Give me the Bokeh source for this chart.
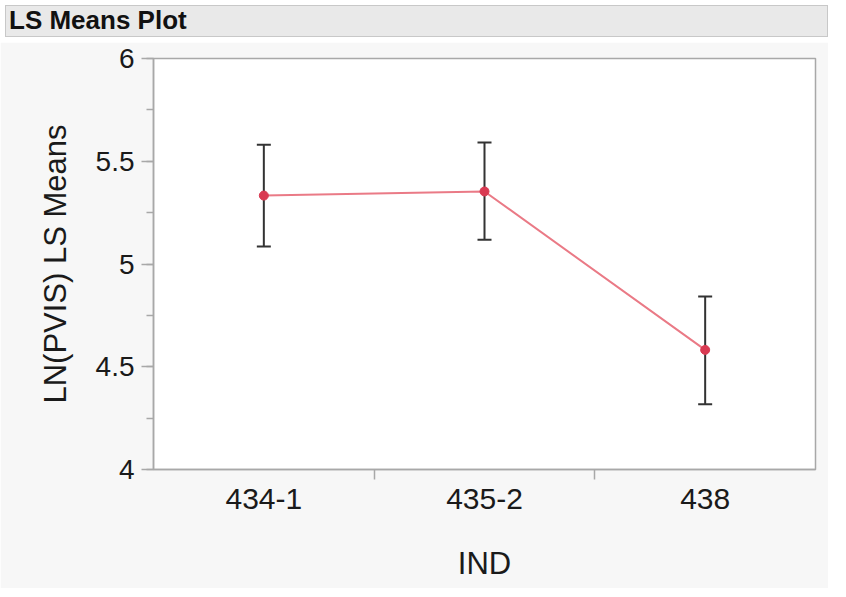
from bokeh.plotting import figure
from bokeh.models import (ColumnDataSource, Whisker, TeeHead, FixedTicker,
                          SingleIntervalTicker, CustomJSTickFormatter, Div, Range1d)
from bokeh.layouts import column
from bokeh.embed import file_html
from bokeh.resources import INLINE

# ---- data ----
categories = ["434-1", "435-2", "438"]
ls_means = [5.333, 5.353, 4.582]
upper_ci = [5.580, 5.591, 4.842]
lower_ci = [5.085, 5.118, 4.318]

xpos = [i + 0.5 for i in range(len(categories))]
src = ColumnDataSource(dict(x=xpos, mean=ls_means, upper=upper_ci, lower=lower_ci, cat=categories))

FONT = "Liberation Sans"

title_div = Div(text="LS Means Plot", width=823, height=32,
                styles={"background-color": "#e9e9e9", "border": "1px solid #c8c8c8",
                        "font-family": FONT, "font-weight": "bold", "font-size": "26px",
                        "padding-left": "3px", "box-sizing": "border-box",
                        "line-height": "29px", "color": "#111111"})

p = figure(width=828, height=546, output_backend="svg", toolbar_location=None,
           x_range=Range1d(0, len(categories)), y_range=Range1d(4, 6),
           min_border_left=153, min_border_right=13, min_border_top=16, min_border_bottom=119,
           background_fill_color="white", border_fill_color="#f7f7f7",
           outline_line_color="#a8a8a8", outline_line_width=1.5)
p.grid.visible = False

# axes
p.yaxis.ticker = SingleIntervalTicker(interval=0.5, num_minor_ticks=2)
p.yaxis.formatter = CustomJSTickFormatter(code="return String(Math.round(tick*10)/10);")
p.yaxis.axis_label = "LN(PVIS) LS Means"
p.xaxis.ticker = FixedTicker(ticks=xpos, minor_ticks=[1, 2])
p.xaxis.formatter = CustomJSTickFormatter(args=dict(cats=categories),
                                          code="return cats[Math.round(tick - 0.5)];")
p.xaxis.axis_label = "IND"

for ax in (p.xaxis[0], p.yaxis[0]):
    ax.axis_line_color = "#a8a8a8"
    ax.axis_line_width = 1.5
    ax.major_tick_line_color = "#a8a8a8"
    ax.minor_tick_line_color = "#a8a8a8"
    ax.major_tick_line_width = 1.5
    ax.minor_tick_line_width = 1.5
    ax.major_label_text_font = FONT
    ax.major_label_text_color = "#1a1a1a"
    ax.axis_label_text_font = FONT
    ax.axis_label_text_font_style = "normal"
    ax.axis_label_text_color = "#1a1a1a"
    ax.major_tick_in = 0
    ax.minor_tick_in = 0

p.yaxis.major_tick_out = 12
p.yaxis.minor_tick_out = 7
p.yaxis.major_label_text_font_size = "28px"
p.yaxis.major_label_standoff = 7
p.yaxis.axis_label_text_font_size = "31px"
p.yaxis.axis_label_standoff = 20

p.xaxis.major_tick_out = 0
p.xaxis.minor_tick_out = 10
p.xaxis.major_label_text_font_size = "30px"
p.xaxis.major_label_standoff = 9
p.xaxis.axis_label_text_font_size = "31px"
p.xaxis.axis_label_standoff = 34

# error bars
head_kw = dict(size=14, line_color="#333333", line_width=2)
p.add_layout(Whisker(source=src, base="x", upper="upper", lower="lower",
                     line_color="#333333", line_width=2,
                     upper_head=TeeHead(**head_kw), lower_head=TeeHead(**head_kw)))

# means line + points
p.line("x", "mean", source=src, line_color="#ea7a86", line_width=2)
p.scatter("x", "mean", source=src, size=9, fill_color="#d93a52", line_color="#d93a52")

layout = column(title_div, p, spacing=0)
open("out.html", "w").write(file_html(layout, INLINE))
